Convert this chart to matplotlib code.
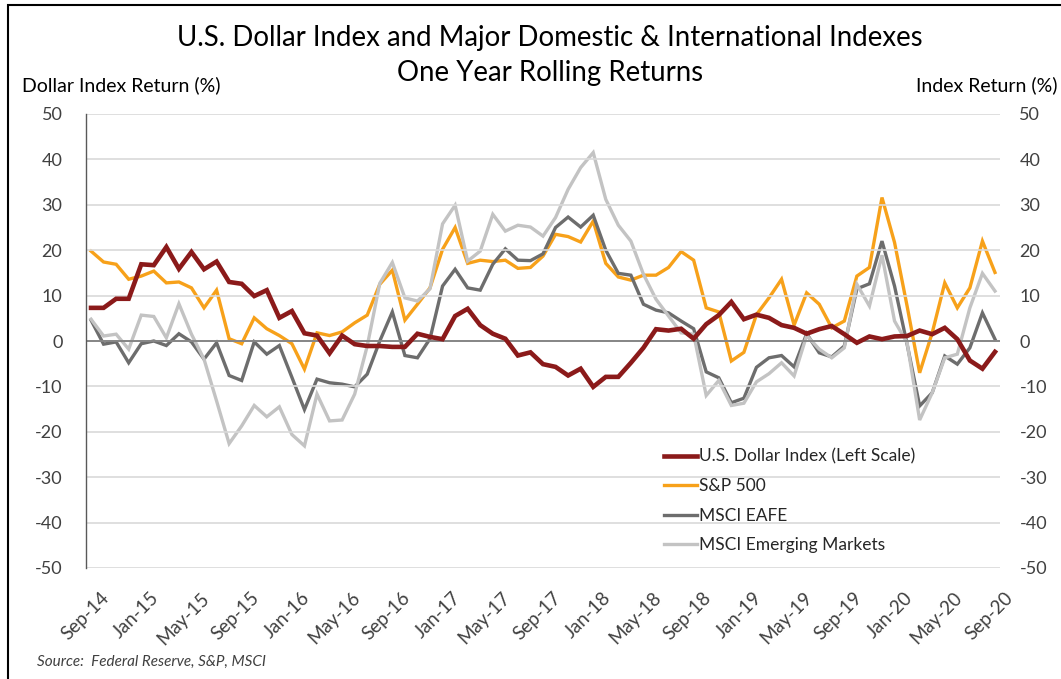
import matplotlib
matplotlib.use("Agg")
import matplotlib.pyplot as plt
import matplotlib.transforms as mtransforms
import pandas as pd
from matplotlib.patches import Rectangle

plt.rcParams['font.family'] = ['Lato', 'DejaVu Sans']
plt.rcParams['axes.unicode_minus'] = False

dates = pd.date_range('2014-09-01', periods=73, freq='MS')
tick_every = 4

dollar = [7.3, 7.3, 9.3, 9.3, 16.9, 16.7, 20.7, 15.9, 19.6, 15.8, 17.5, 13.0, 12.6, 9.9, 11.2, 5.1, 6.6, 1.7, 1.2,
          -2.7, 1.2, -0.7, -1.1, -1.1, -1.3, -1.3, 1.6, 0.9, 0.4, 5.5, 7.1, 3.5, 1.6, 0.5, -3.2, -2.5,
          -5.1, -5.7, -7.6, -6.1, -10.1, -7.9, -7.9, -4.8, -1.5, 2.6, 2.3, 2.7, 0.5, 3.7, 5.7, 8.6, 4.8, 5.8,
          5.1, 3.5, 2.9, 1.6, 2.6, 3.3, 1.5, -0.4, 1.0, 0.4, 1.0, 1.1, 2.3, 1.5, 2.9, 0.4, -4.3, -6.1, -2.4]
sp500 = [19.8, 17.4, 16.9, 13.6, 14.3, 15.4, 12.8, 13.0, 11.7, 7.3, 11.2, 0.5, -0.6, 5.1, 2.7, 1.2, -0.6, -6.2, 1.8,
         1.2, 2.0, 4.0, 5.7, 12.5, 15.6, 4.6, 8.1, 11.7, 20.2, 25.0, 17.1, 17.8, 17.5, 17.8, 16.0, 16.2,
         18.7, 23.5, 23.0, 21.8, 26.4, 17.1, 14.1, 13.4, 14.5, 14.5, 16.2, 19.7, 17.8, 7.3, 6.4, -4.4, -2.5, 5.8,
         9.5, 13.6, 3.5, 10.6, 8.1, 2.9, 4.4, 14.3, 16.2, 31.6, 21.7, 7.7, -7.0, 1.8, 12.8, 7.3, 11.7, 22.0, 15.1]
eafe = [4.6, -0.7, -0.2, -4.8, -0.6, 0.0, -1.0, 1.6, -0.2, -4.0, -0.4, -7.6, -8.7, -0.2, -2.9, -1.0, -8.0, -15.1, -8.4,
        -9.2, -9.5, -10.1, -7.3, 0.0, 6.4, -3.2, -3.7, 0.5, 12.1, 15.8, 11.7, 11.2, 16.9, 20.3, 17.8, 17.7,
        19.2, 25.0, 27.3, 25.1, 27.7, 20.0, 14.9, 14.5, 8.1, 6.8, 6.2, 4.4, 2.7, -6.8, -8.1, -13.6, -12.6, -5.8,
        -3.7, -3.2, -5.7, 1.6, -2.6, -3.5, -1.1, 11.5, 12.6, 22.0, 12.1, -0.7, -14.3, -11.4, -3.3, -5.1, -1.5, 6.2, 0.4]
em = [4.8, 1.1, 1.5, -1.8, 5.7, 5.4, 0.7, 8.2, 1.5, -4.0, -13.2, -22.6, -18.7, -14.2, -16.7, -14.5, -20.6, -23.1, -11.7,
      -17.6, -17.4, -11.7, -1.1, 12.7, 17.3, 9.5, 8.8, 11.5, 25.8, 29.9, 17.6, 19.8, 27.9, 24.2, 25.5, 25.1,
      23.1, 27.2, 33.4, 38.2, 41.5, 31.2, 25.5, 22.0, 14.7, 9.2, 5.5, 1.8, 1.5, -12.0, -8.7, -14.2, -13.7, -9.0,
      -7.2, -4.8, -7.7, 1.2, -1.8, -3.7, -1.5, 12.5, 7.7, 18.9, 4.4, -0.4, -17.4, -11.4, -3.7, -2.9, 7.3, 14.9, 11.0]

labels = ['U.S. Dollar Index (Left Scale)', 'S&P 500', 'MSCI EAFE', 'MSCI Emerging Markets']
colors = ['#8B1A1A', '#F7A11A', '#6D6D6D', '#C3C3C3']

W, H = 1061, 679
fig = plt.figure(figsize=(W / 100, H / 100), dpi=100)
ax = fig.add_axes([86 / W, 1 - 568 / H, (1000 - 86) / W, (568 - 114) / H])
ax2 = ax.twinx()

x = list(range(len(dates)))
yticks = list(range(-50, 51, 10))
tickcol = '#404040'

for a in (ax, ax2):
    a.set_ylim(-50, 50)
    a.set_yticks(yticks)
    for s in a.spines.values():
        s.set_visible(False)
    a.tick_params(axis='y', length=0, labelsize=13, labelcolor=tickcol)
ax.set_xlim(-0.4, len(dates) - 1 + 0.4)
ax.tick_params(axis='y', pad=17)
ax2.tick_params(axis='y', pad=14)
ax.spines['left'].set_visible(True)
ax.spines['left'].set_color('#595959')
ax.spines['left'].set_linewidth(1.0)

ax.grid(axis='y', color='#D9D9D9', linewidth=1.2)
ax.set_axisbelow(True)
ax.axhline(0, color='#7F7F7F', linewidth=1.3, zorder=1)

ax.set_zorder(ax2.get_zorder() + 1)
ax.patch.set_visible(False)

l2, = ax2.plot(x, sp500, color=colors[1], linewidth=2.4, solid_joinstyle='miter')
l3, = ax2.plot(x, eafe, color=colors[2], linewidth=2.4, solid_joinstyle='miter')
l4, = ax2.plot(x, em, color=colors[3], linewidth=2.4, solid_joinstyle='miter')
l1, = ax.plot(x, dollar, color=colors[0], linewidth=3.3, solid_joinstyle='miter')

ticks = x[::tick_every]
ax.set_xticks(ticks)
ax.set_xticklabels([d.strftime('%b-%y') for d in dates[::tick_every]], rotation=45,
                   ha='right', va='top', rotation_mode='anchor', fontsize=13.5, color=tickcol)
ax.tick_params(axis='x', length=0, pad=6)
offset = mtransforms.ScaledTranslation(9 / 100, -13 / 100, fig.dpi_scale_trans)
for lab in ax.get_xticklabels():
    lab.set_transform(lab.get_transform() + offset)

ax.legend([l1, l2, l3, l4], labels, loc='upper left', bbox_to_anchor=(655 / W, 1 - 440 / H),
          bbox_transform=fig.transFigure, frameon=False, fontsize=12.5, handlelength=1.9,
          handletextpad=0.15, labelspacing=0.78, labelcolor='#262626', borderpad=0)

fig.text(550 / W, 1 - 38 / H, 'U.S. Dollar Index and Major Domestic & International Indexes',
         ha='center', va='center', fontsize=19.9, color='#000000')
fig.text(550 / W, 1 - 73 / H, 'One Year Rolling Returns', ha='center', va='center', fontsize=19.9, color='#000000')
fig.text(22 / W, 1 - 85 / H, 'Dollar Index Return (%)', ha='left', va='center', fontsize=14, color='#000000')
fig.text(1058 / W, 1 - 85 / H, 'Index Return (%)', ha='right', va='center', fontsize=14, color='#000000')
fig.text(37 / W, 1 - 662 / H, 'Source:  Federal Reserve, S&P, MSCI', ha='left', va='center', fontsize=11,
         style='italic', color='#404040')

fig.patches.append(Rectangle((8 / W, -0.1), 1.2, 1 - 5 / H + 0.1, transform=fig.transFigure,
                             fill=False, edgecolor='#000000', linewidth=1.5))

fig.savefig('out.png', dpi=100)
